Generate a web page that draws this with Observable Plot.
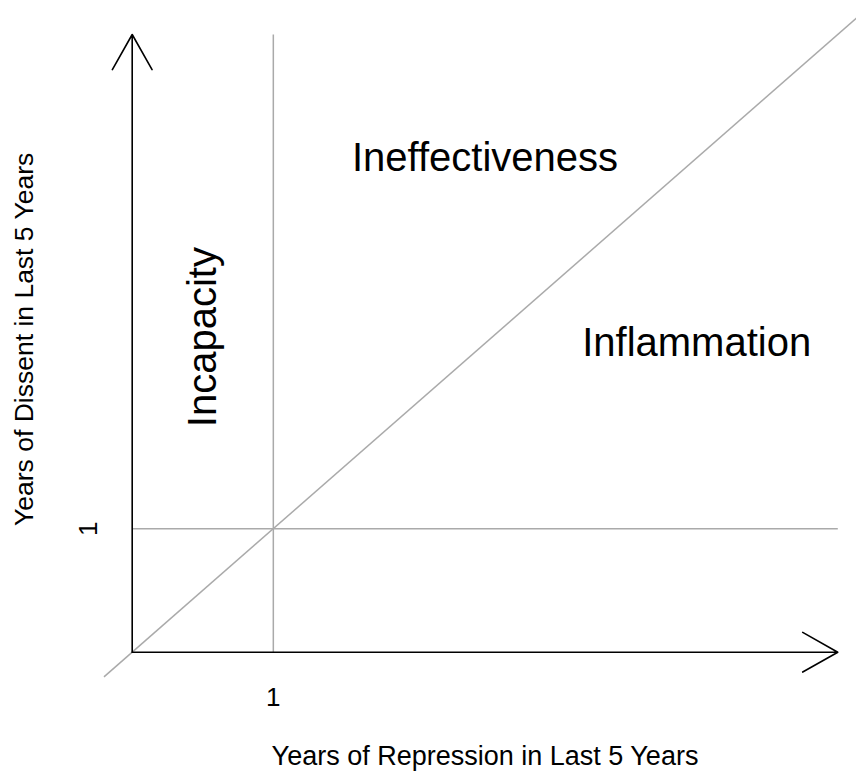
<!DOCTYPE html>
<html>
<head>
<meta charset="utf-8">
<script src="https://cdn.jsdelivr.net/npm/d3@7"></script>
<script src="https://cdn.jsdelivr.net/npm/@observablehq/plot@0.6"></script>
<style>
  html, body { margin: 0; padding: 0; background: #fff; overflow: hidden; }
  #chart svg { display: block; background: #fff; }
</style>
</head>
<body>
<div id="chart"></div>
<script>
// Axis arrows (data units)
const axisArrowX1 = [0, 0];
const axisArrowY1 = [0, 0];
const axisArrowX2 = [5, 0];
const axisArrowY2 = [0, 5];

// Gray reference lines: vertical x=1, horizontal y=1, diagonal y=x
const refX1 = [1, 0, -0.2];
const refY1 = [0, 1, -0.2];
const refX2 = [1, 5, 5.15];
const refY2 = [5, 1, 5.15];

// Region labels
const labelText = ["Ineffectiveness", "Inflammation", "Incapacity"];
const labelX = [2.5, 4, 0.5];
const labelY = [4, 2.5, 2.55];
const labelRotate = [0, 0, -90];

// Tick labels
const xTicks = [1];
const yTicks = [1];

const xTitle = "Years of Repression in Last 5 Years";
const yTitle = "Years of Dissent in Last 5 Years";

const font = "Liberation Sans, Arial, Helvetica, sans-serif";
const axisSW = 1.6;

const arrows = axisArrowX1.map((d, i) => ({x1: d, y1: axisArrowY1[i], x2: axisArrowX2[i], y2: axisArrowY2[i]}));
const refs = refX1.map((d, i) => ({x1: d, y1: refY1[i], x2: refX2[i], y2: refY2[i]}));
const labels = labelText.map((t, i) => ({t, x: labelX[i], y: labelY[i], r: labelRotate[i]}));

const chart = Plot.plot({
  width: 856,
  height: 778,
  marginLeft: 131.7,
  marginRight: 18.7,
  marginTop: 34,
  marginBottom: 126.3,
  style: {fontFamily: font, background: "#fff", color: "#000"},
  x: {domain: [0, 5], axis: null},
  y: {domain: [0, 5], axis: null},
  marks: [
    Plot.link(refs, {x1: "x1", y1: "y1", x2: "x2", y2: "y2", stroke: "#aaaaaa", strokeWidth: 1.5}),
    Plot.arrow(arrows, {x1: "x1", y1: "y1", x2: "x2", y2: "y2", stroke: "#000", strokeWidth: axisSW,
      headAngle: 59, headLength: 40.3 * 1.5 / axisSW, bend: 0}),
    Plot.text(labels.filter(d => d.r === 0), {x: "x", y: "y", text: "t", fontSize: 40, lineAnchor: "middle", textAnchor: "middle", fill: "#000"}),
    Plot.text(labels.filter(d => d.r !== 0), {x: "x", y: "y", text: "t", rotate: -90, fontSize: 40, lineAnchor: "middle", textAnchor: "middle", fill: "#000"}),
    Plot.text(xTicks, {x: d => d, y: 0, text: d => String(d), fontSize: 26, lineAnchor: "middle", textAnchor: "middle", dy: 45, fill: "#000"}),
    Plot.text(yTicks, {x: 0, y: d => d, text: d => String(d), rotate: -90, fontSize: 26, lineAnchor: "middle", textAnchor: "middle", dx: -44, fill: "#000"}),
    Plot.text([xTitle], {frameAnchor: "bottom", text: d => d, fontSize: 27, lineAnchor: "middle", textAnchor: "middle", dy: 104, fill: "#000"}),
    Plot.text([yTitle], {frameAnchor: "left", text: d => d, rotate: -90, fontSize: 26.5, lineAnchor: "middle", textAnchor: "middle", dx: -108, dy: -4, fill: "#000"})
  ]
});
document.getElementById("chart").appendChild(chart);
</script>
</body>
</html>
